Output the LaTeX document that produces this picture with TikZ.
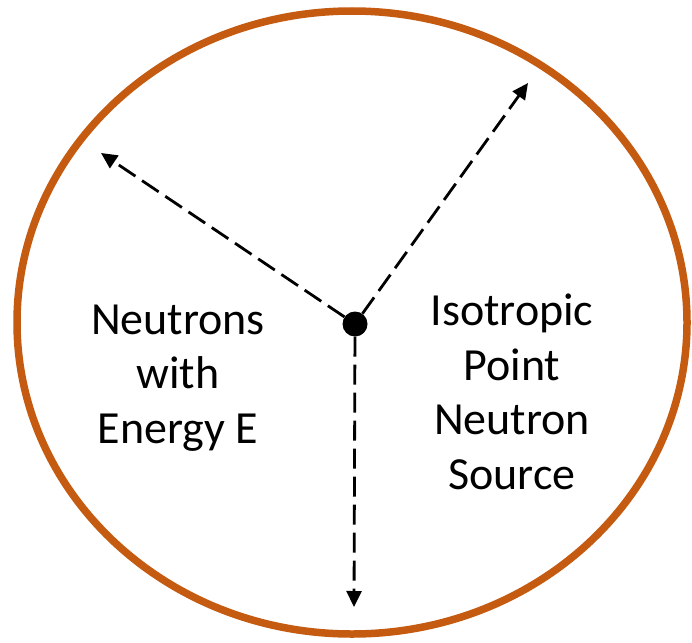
\documentclass[tikz,border=0pt]{standalone}
\usepackage{fontspec}
\setmainfont{Carlito}
\usetikzlibrary{arrows.meta}
\definecolor{rimorange}{HTML}{C55A11}
\begin{document}
\begin{tikzpicture}[x=1pt, y=-1pt,
  ray/.style={line width=2.8pt, dash pattern=on 20pt off 8pt, -{Triangle[length=16pt, width=15pt]}},
  label/.style={align=center, anchor=base, font=\fontsize{46}{54.5}\selectfont}]
\useasboundingbox (0,0) rectangle (692,642);
\draw[rimorange, line width=7.5pt] (352,322.5) ellipse [x radius=335pt, y radius=311.5pt];
\node[circle, fill=black, inner sep=0pt, minimum size=25pt] (src) at (355,324) {};
\coordinate (upright) at (528,83);
\coordinate (upleft) at (101,153);
\coordinate (down) at (354,607);
\draw[ray] (src) -- (upright);
\draw[ray] (src) -- (upleft);
\draw[ray] (src) -- (down);
% base anchor sits on the last line
\node[label] (neutrons) at (178,443) {Neutrons\\with\\Energy E};
\node[label] (source) at (512,489) {Isotropic\\Point\\Neutron\\Source};
\end{tikzpicture}
\end{document}
